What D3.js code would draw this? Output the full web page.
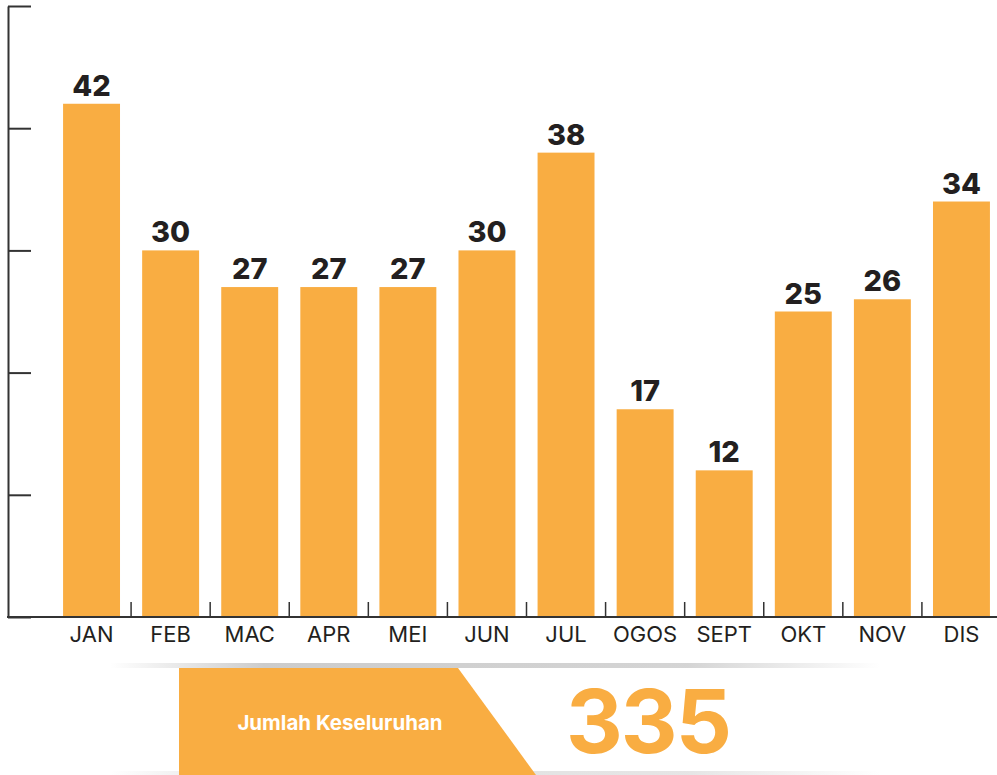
<!DOCTYPE html>
<html>
<head>
<meta charset="utf-8">
<script src="https://cdn.jsdelivr.net/npm/d3@7"></script>
<style>
  body { margin: 0; background: #fff; }
  svg { display: block; }
</style>
</head>
<body>
<div class="chart"></div>
<script>
// chart data
var months = ["JAN", "FEB", "MAC", "APR", "MEI", "JUN", "JUL", "OGOS", "SEPT", "OKT", "NOV", "DIS"];
var counts = [42, 30, 27, 27, 27, 30, 38, 17, 12, 25, 26, 34];
var yTicks = [0, 10, 20, 30, 40, 50];
var totalLabel = "Jumlah Keseluruhan";

var svgWidth = 997;
var svgHeight = 775;

var orange = "#f9ad42";
var ink = "#231f20";

var data = months.map(function (m, i) { return { month: m, value: counts[i] }; });
var total = d3.sum(counts);

var svg = d3.select(".chart")
  .append("svg")
  .attr("width", svgWidth)
  .attr("height", svgHeight);

// scales
var xBandScale = d3.scaleBand()
  .domain(months)
  .range([52, 1001])
  .paddingInner(0.28)
  .paddingOuter(0.14);

var yLinearScale = d3.scaleLinear()
  .domain([0, 50])
  .range([617, 6]);

// bars
svg.selectAll("rect.bar")
  .data(data)
  .enter()
  .append("rect")
  .attr("class", "bar")
  .attr("x", d => xBandScale(d.month))
  .attr("y", d => yLinearScale(d.value))
  .attr("width", xBandScale.bandwidth())
  .attr("height", d => yLinearScale(0) - yLinearScale(d.value))
  .attr("fill", orange);

// value labels
svg.selectAll("text.value")
  .data(data)
  .enter()
  .append("text")
  .attr("class", "value")
  .attr("x", d => xBandScale(d.month) + xBandScale.bandwidth() / 2)
  .attr("y", d => yLinearScale(d.value) - 8)
  .attr("text-anchor", "middle")
  .attr("font-family", "Inter, 'Noto Sans', sans-serif")
  .attr("font-weight", 800)
  .attr("font-size", "29px")
  .attr("fill", ink)
  .text(d => d.value);

// y axis: ticks to the right, no labels
var leftAxis = d3.axisRight(yLinearScale)
  .tickValues(yTicks)
  .tickSize(23)
  .tickSizeOuter(0)
  .tickFormat("");

var yAxis = svg.append("g")
  .attr("transform", "translate(8, 0)")
  .call(leftAxis);
yAxis.select(".domain").attr("stroke", "#333").attr("stroke-width", 2);
yAxis.selectAll(".tick line").attr("stroke", "#333").attr("stroke-width", 2);

// x axis baseline
svg.append("line")
  .attr("x1", 7)
  .attr("x2", svgWidth)
  .attr("y1", yLinearScale(0))
  .attr("y2", yLinearScale(0))
  .attr("stroke", "#333")
  .attr("stroke-width", 2);

// small tick marks between bars
var step = xBandScale.step();
var gapHalf = (step - xBandScale.bandwidth()) / 2;
svg.selectAll("line.xtick")
  .data(months.slice(1))
  .enter()
  .append("line")
  .attr("class", "xtick")
  .attr("x1", d => xBandScale(d) - gapHalf)
  .attr("x2", d => xBandScale(d) - gapHalf)
  .attr("y1", yLinearScale(0))
  .attr("y2", yLinearScale(0) - 15)
  .attr("stroke", "#333")
  .attr("stroke-width", 1.5);

// month labels
svg.selectAll("text.month")
  .data(months)
  .enter()
  .append("text")
  .attr("class", "month")
  .attr("x", d => xBandScale(d) + xBandScale.bandwidth() / 2)
  .attr("y", 642)
  .attr("text-anchor", "middle")
  .attr("font-family", "Inter, 'Noto Sans', sans-serif")
  .attr("font-size", "22px")
  .attr("fill", ink)
  .text(d => d);

// total ribbon shadows
var defs = svg.append("defs");
var grad = defs.append("linearGradient")
  .attr("id", "shade")
  .attr("x1", "0%").attr("x2", "100%");
grad.append("stop").attr("offset", "0%").attr("stop-color", "#aaa").attr("stop-opacity", 0);
grad.append("stop").attr("offset", "20%").attr("stop-color", "#aaa").attr("stop-opacity", 0.6);
grad.append("stop").attr("offset", "75%").attr("stop-color", "#aaa").attr("stop-opacity", 0.5);
grad.append("stop").attr("offset", "100%").attr("stop-color", "#aaa").attr("stop-opacity", 0);

svg.append("rect")
  .attr("x", 110).attr("y", 663)
  .attr("width", 770).attr("height", 5)
  .attr("fill", "url(#shade)");

svg.append("rect")
  .attr("x", 110).attr("y", 771)
  .attr("width", 770).attr("height", 4)
  .attr("fill", "url(#shade)")
  .attr("opacity", 0.6);

// orange label block with slanted edge
svg.append("path")
  .attr("d", "M179,668 L458,668 L536,775 L179,775 Z")
  .attr("fill", orange);

svg.append("text")
  .attr("x", 340)
  .attr("y", 730)
  .attr("text-anchor", "middle")
  .attr("font-family", "Inter, 'Noto Sans', sans-serif")
  .attr("font-weight", 700)
  .attr("font-size", "20.5px")
  .attr("fill", "#fff")
  .text(totalLabel);

svg.append("text")
  .attr("x", 648)
  .attr("y", 753)
  .attr("text-anchor", "middle")
  .attr("font-family", "Inter, 'Noto Sans', sans-serif")
  .attr("font-weight", 700)
  .attr("font-size", "88px")
  .attr("letter-spacing", "-2px")
  .attr("fill", orange)
  .text(total);
</script>
</body>
</html>
